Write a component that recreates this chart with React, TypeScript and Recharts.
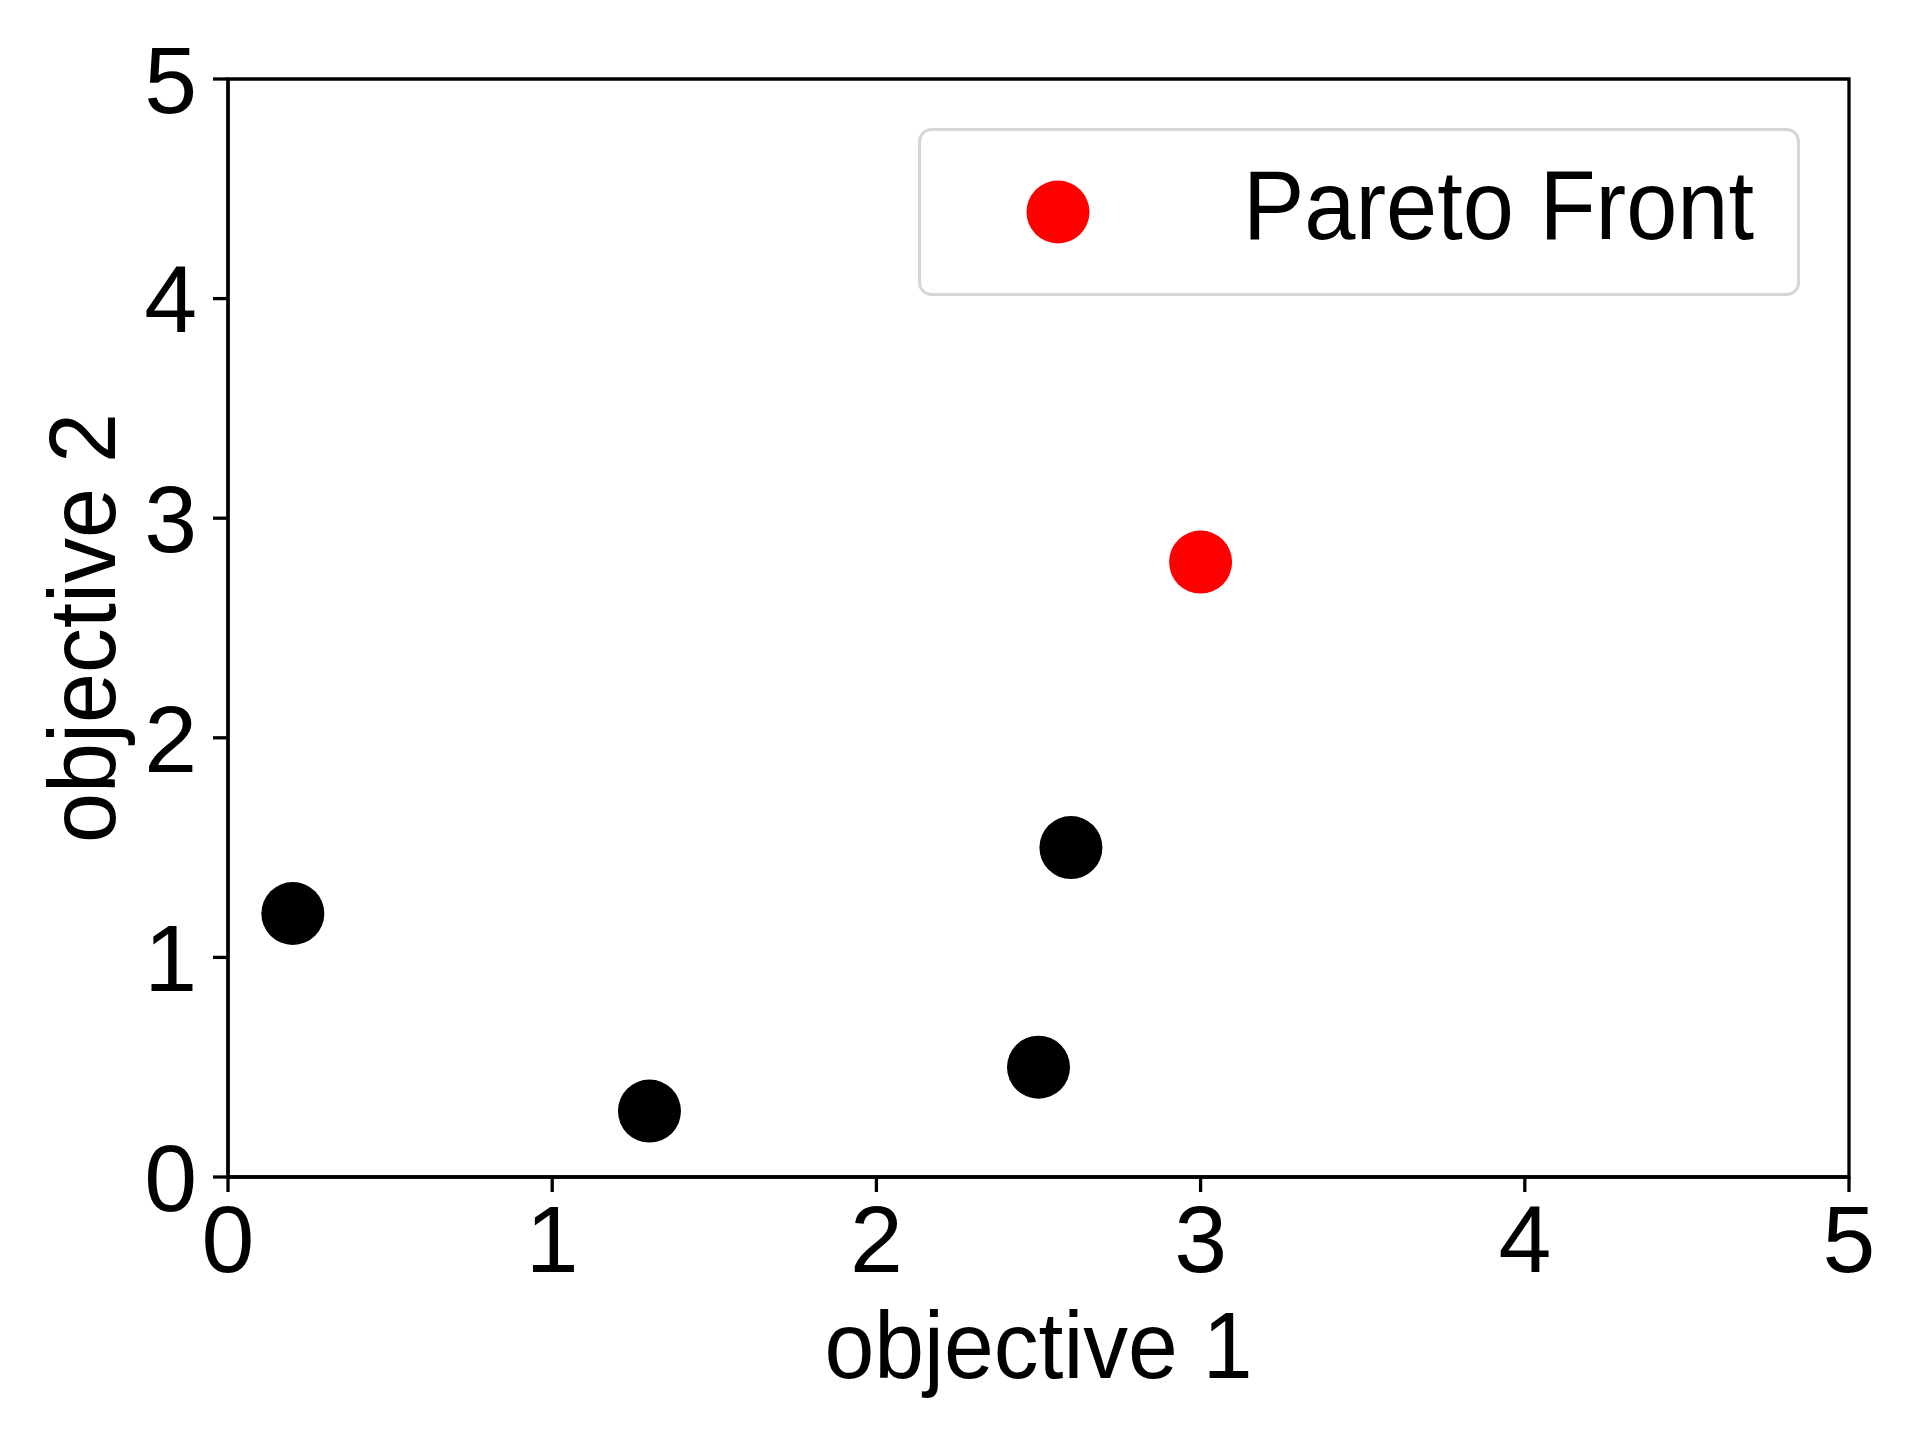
import React from 'react';
import { ScatterChart, Scatter, XAxis, YAxis, ReferenceArea, Legend } from 'recharts';

const otherPoints = [
  { x: 0.2, y: 1.2 },
  { x: 1.3, y: 0.3 },
  { x: 2.5, y: 0.5 },
  { x: 2.6, y: 1.5 },
];
const paretoPoints = [{ x: 3.0, y: 2.8 }];
const xTicks = [0, 1, 2, 3, 4, 5];
const yTicks = [0, 1, 2, 3, 4, 5];
const xLabel = 'objective 1';
const yLabel = 'objective 2';
const legendLabel = 'Pareto Front';

const FONT = "'Liberation Sans', Arial, sans-serif";
const FS = 95;
const R = 31.5;
const LW = 3.3;

const dot = (color: string) => (props: any) => (
  <circle cx={props.cx} cy={props.cy} r={R} fill={color} />
);

const LegendBox = () => (
  <svg width={882} height={168} style={{ display: 'block' }}>
    <rect x={1.5} y={1.5} width={879} height={165} rx={12} ry={12} fill="#fff" stroke="#d6d6d6" strokeWidth={3} />
    <circle cx={140} cy={84} r={R} fill="#ff0000" />
    <text x={325} y={111} fontSize={98} fontFamily={FONT} fill="#000" textLength={511} lengthAdjust="spacingAndGlyphs">
      {legendLabel}
    </text>
  </svg>
);

export default function App() {
  return (
    <div style={{ position: 'absolute', left: 0, top: 0, background: '#fff' }}>
      <ScatterChart width={1920} height={1440} margin={{ top: 79, right: 71, left: 0, bottom: 0 }}>
        <XAxis
          type="number"
          dataKey="x"
          domain={[0, 5]}
          ticks={xTicks}
          allowDataOverflow
          height={263}
          tickSize={15}
          tickMargin={13}
          axisLine={{ stroke: '#000', strokeWidth: LW }}
          tickLine={{ stroke: '#000', strokeWidth: LW }}
          tick={{ fill: '#000', fontSize: FS, fontFamily: FONT }}
          label={{
            content: (p: any) => {
              const vb = p.viewBox || { x: 228, width: 1621, y: 1177 };
              return (
                <text x={vb.x + vb.width / 2} y={1378} textAnchor="middle" fontSize={FS} fontFamily={FONT} fill="#000" textLength={428} lengthAdjust="spacingAndGlyphs">
                  {xLabel}
                </text>
              );
            },
          }}
        />
        <YAxis
          type="number"
          dataKey="y"
          domain={[0, 5]}
          ticks={yTicks}
          allowDataOverflow
          width={228}
          tickSize={15}
          tickMargin={16}
          axisLine={{ stroke: '#000', strokeWidth: LW }}
          tickLine={{ stroke: '#000', strokeWidth: LW }}
          tick={{ fill: '#000', fontSize: FS, fontFamily: FONT }}
          label={{
            content: (p: any) => {
              const vb = p.viewBox || { y: 79, height: 1098 };
              const cy = vb.y + vb.height / 2;
              return (
                <text x={115} y={cy} transform={`rotate(-90, 115, ${cy})`} textAnchor="middle" fontSize={FS} fontFamily={FONT} fill="#000" textLength={430} lengthAdjust="spacingAndGlyphs">
                  {yLabel}
                </text>
              );
            },
          }}
        />
        <ReferenceArea x1={0} x2={5} y1={0} y2={5} fill="none" fillOpacity={0} stroke="#000" strokeWidth={LW} />
        <Scatter name="others" data={otherPoints} fill="#000" shape={dot('#000000')} isAnimationActive={false} legendType="none" />
        <Scatter name={legendLabel} data={paretoPoints} fill="#ff0000" shape={dot('#ff0000')} isAnimationActive={false} />
        <Legend
          layout="horizontal"
          verticalAlign="middle"
          align="center"
          content={() => <LegendBox />}
          wrapperStyle={{ position: 'absolute', left: 918, top: 128, width: 882, height: 168 }}
        />
      </ScatterChart>
    </div>
  );
}
